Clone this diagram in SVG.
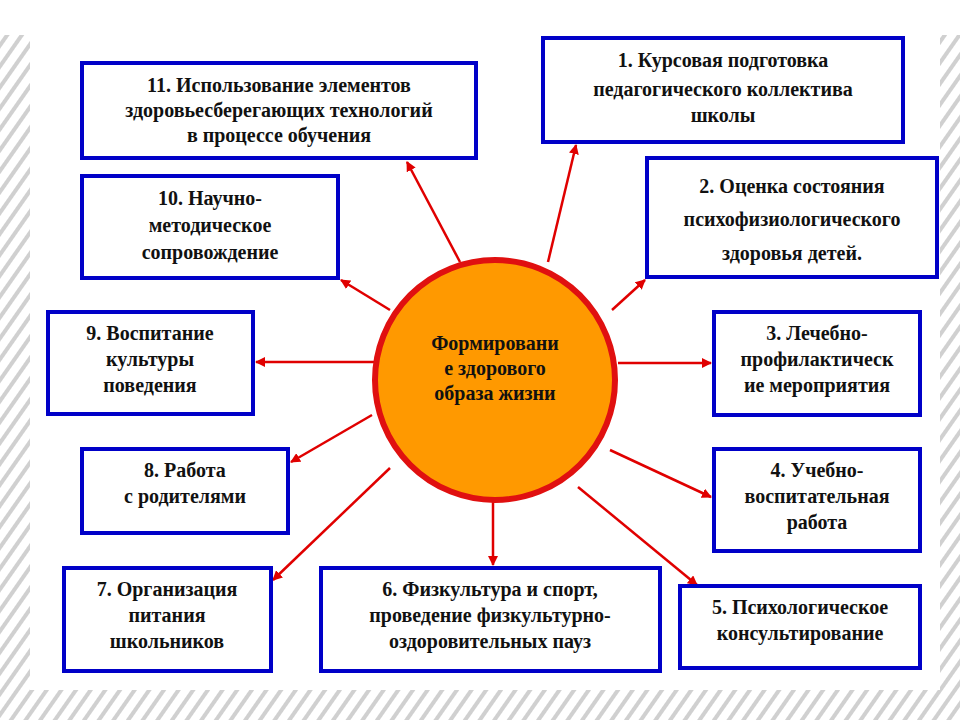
<svg xmlns="http://www.w3.org/2000/svg" width="960" height="720" viewBox="0 0 960 720">
<defs>
<pattern id="st" width="12" height="12" patternUnits="userSpaceOnUse" patternTransform="rotate(35)">
<rect width="12" height="12" fill="#fff"/><rect width="4" height="12" fill="#d0d0d0"/>
</pattern>
<marker id="ah" viewBox="0 0 10 10" refX="9" refY="5" markerWidth="4" markerHeight="4" orient="auto"><path d="M0,0L10,5L0,10z" fill="#e00000"/></marker>
<style>
.b{fill:#fff;stroke:#0000c8;stroke-width:4}
.t{font-family:"Liberation Serif","DejaVu Serif",serif;font-weight:bold;font-size:20px;fill:#111;text-anchor:middle}
.c line{stroke:#e00000;stroke-width:2.5;marker-end:url(#ah)}
</style>
</defs>
<rect width="960" height="720" fill="url(#st)"/>
<rect x="0" y="0" width="960" height="35" fill="#fff"/>
<rect x="30" y="35" width="910" height="655" fill="#fff"/>
<g class="c">
<line x1="460" y1="262" x2="407" y2="162"/>
<line x1="548" y1="262" x2="576" y2="145"/>
<line x1="612" y1="310" x2="645" y2="280"/>
<line x1="618" y1="363" x2="711" y2="363"/>
<line x1="610" y1="450" x2="711" y2="497"/>
<line x1="578" y1="487" x2="697" y2="585"/>
<line x1="493" y1="500" x2="493" y2="565"/>
<line x1="390" y1="468" x2="273" y2="580"/>
<line x1="372" y1="415" x2="291" y2="462"/>
<line x1="374" y1="362" x2="256" y2="362"/>
<line x1="390" y1="310" x2="341" y2="280"/>
</g>
<g id="center"><circle cx="495" cy="380" r="120" fill="#ff9900" stroke="#e01010" stroke-width="6"/>
<text class="t" x="495" y="350">Формировани</text><text class="t" x="495" y="375">е здорового</text><text class="t" x="495" y="400">образа жизни</text></g>
<g id="n11"><rect class="b" x="82" y="63" width="394" height="95"/><text class="t" x="279" y="92">11. Использование элементов</text><text class="t" x="279" y="117">здоровьесберегающих технологий</text><text class="t" x="279" y="142">в процессе обучения</text></g>
<g id="n1"><rect class="b" x="543" y="38" width="360" height="104"/><text class="t" x="723" y="67">1. Курсовая подготовка</text><text class="t" x="723" y="96">педагогического коллектива</text><text class="t" x="723" y="122">школы</text></g>
<g id="n10"><rect class="b" x="82" y="176" width="256" height="102"/><text class="t" x="210" y="205">10. Научно-</text><text class="t" x="210" y="232">методическое</text><text class="t" x="210" y="259">сопровождение</text></g>
<g id="n2"><rect class="b" x="647" y="158" width="290" height="119"/><text class="t" x="792" y="193">2. Оценка состояния</text><text class="t" x="792" y="226">психофизиологического</text><text class="t" x="792" y="260">здоровья детей.</text></g>
<g id="n9"><rect class="b" x="48" y="312" width="205" height="102"/><text class="t" x="150" y="340">9. Воспитание</text><text class="t" x="150" y="366">культуры</text><text class="t" x="150" y="392">поведения</text></g>
<g id="n3"><rect class="b" x="714" y="312" width="206" height="103"/><text class="t" x="817" y="340">3. Лечебно-</text><text class="t" x="817" y="366">профилактическ</text><text class="t" x="817" y="392">ие мероприятия</text></g>
<g id="n8"><rect class="b" x="82" y="449" width="206" height="84"/><text class="t" x="185" y="477">8. Работа</text><text class="t" x="185" y="503">с родителями</text></g>
<g id="n4"><rect class="b" x="714" y="449" width="206" height="102"/><text class="t" x="817" y="477">4. Учебно-</text><text class="t" x="817" y="503">воспитательная</text><text class="t" x="817" y="529">работа</text></g>
<g id="n7"><rect class="b" x="64" y="568" width="207" height="103"/><text class="t" x="167" y="596">7. Организация</text><text class="t" x="167" y="622">питания</text><text class="t" x="167" y="648">школьников</text></g>
<g id="n6"><rect class="b" x="321" y="568" width="339" height="103"/><text class="t" x="490" y="596">6. Физкультура и спорт,</text><text class="t" x="490" y="622">проведение физкультурно-</text><text class="t" x="490" y="648">оздоровительных пауз</text></g>
<g id="n5"><rect class="b" x="680" y="586" width="240" height="82"/><text class="t" x="800" y="614">5. Психологическое</text><text class="t" x="800" y="640">консультирование</text></g>
</svg>
